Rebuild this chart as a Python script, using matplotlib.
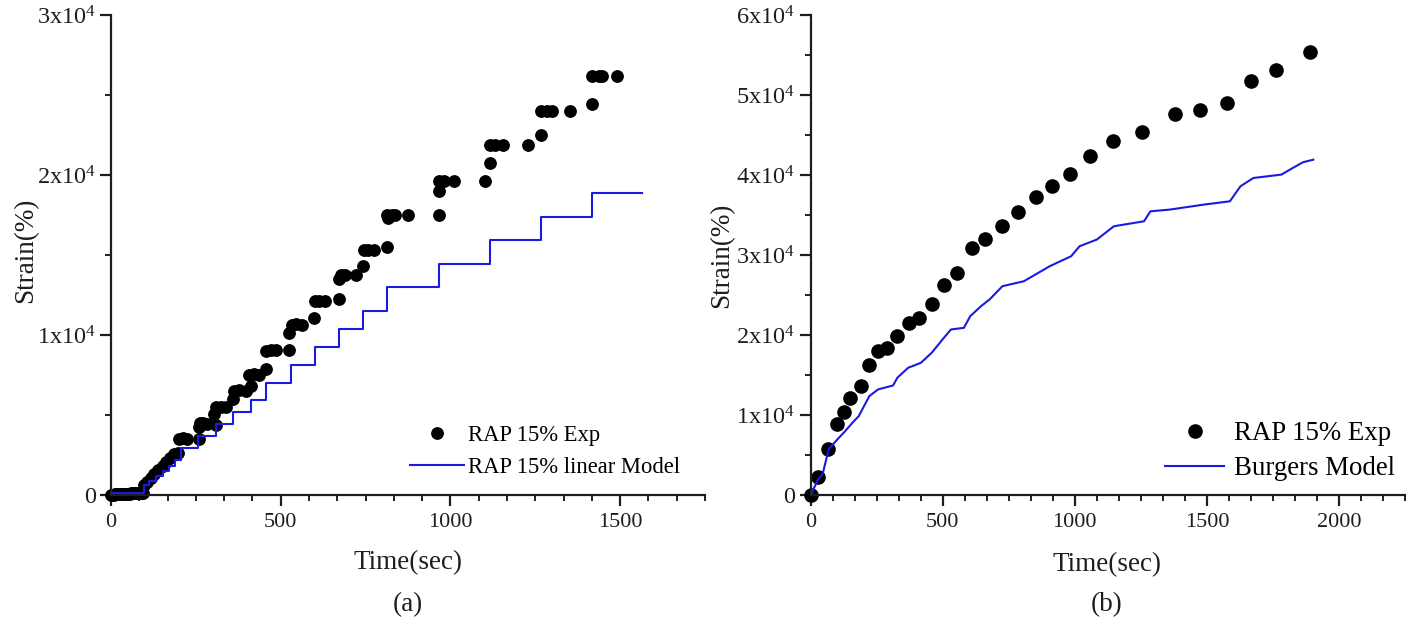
import matplotlib
matplotlib.use("Agg")
import matplotlib.pyplot as plt
from matplotlib.ticker import MultipleLocator, FuncFormatter

plt.rcParams['font.family'] = ['Liberation Serif', 'DejaVu Serif']
plt.rcParams['mathtext.fontset'] = 'custom'
plt.rcParams['mathtext.rm'] = 'Liberation Serif'

# ---- (a) RAP 15%: experiment vs linear model ----
exp_a_time = [0, 4, 8, 12, 16, 20, 25, 30, 35, 40, 45, 50, 55, 60, 65, 70, 75, 80, 85, 90, 95,
              98, 105, 118, 127, 137, 152, 162, 173, 186, 198,
              201, 213, 225, 258,
              258, 262, 271, 284, 309,
              304, 309, 323, 338,
              358, 363, 377, 397, 412,
              407, 421, 436, 456,
              456, 470, 485, 524,
              524, 532, 544, 563, 598,
              601, 613, 630, 671,
              671, 677, 688, 723,
              741, 744, 758, 776,
              813, 815, 813, 828, 837, 874,
              965, 965, 965, 980, 1011, 1103,
              1117, 1117, 1132, 1154, 1228,
              1268, 1268, 1284, 1299, 1353,
              1418, 1418, 1437, 1447, 1491]
exp_a_strain = [0, 20, 30, 40, 50, 55, 60, 65, 70, 75, 80, 85, 90, 95, 100, 105, 110, 115, 120, 130, 140,
                646, 833, 1062, 1333, 1583, 1833, 2083, 2333, 2562, 2625,
                3500, 3540, 3500, 3500,
                4230, 4500, 4500, 4460, 4375,
                5060, 5480, 5520, 5480,
                6000, 6520, 6560, 6520, 6790,
                7500, 7540, 7500, 7875,
                9020, 9080, 9080, 9080,
                10165, 10645, 10690, 10645, 11100,
                12165, 12165, 12165, 12290,
                13520, 13790, 13790, 13790,
                14310, 15350, 15350, 15350,
                15544, 17330, 17506, 17506, 17506, 17506,
                17506, 19025, 19660, 19660, 19660, 19660,
                20755, 21874, 21874, 21874, 21874,
                22507, 24047, 24047, 24047, 24047,
                24470, 26200, 26200, 26200, 26200]

model_a_time = [0, 98, 113, 132, 152, 171, 188, 205, 255, 308, 358, 411, 458, 530,
                600, 671, 742, 813, 965, 1117, 1266, 1418, 1565]
model_a_strain = [100, 600, 900, 1200, 1520, 1830, 2190, 2940, 3720, 4450, 5180, 5940, 7030, 8130,
                  9270, 10390, 11510, 13000, 14460, 15940, 17420, 18920, 18920]

# ---- (b) RAP 15%: experiment vs Burgers model ----
exp_b_time = [0, 28, 65, 101, 125, 149, 190, 219, 255, 287, 328, 372, 409, 461, 503, 555,
              612, 661, 723, 783, 853, 913, 983, 1059, 1145, 1254, 1379, 1473, 1575, 1668,
              1762, 1892]
exp_b_strain = [0, 2250, 5710, 8920, 10375, 12170, 13630, 16250, 18000, 18335, 19875, 21460,
                22170, 23960, 26250, 27790, 30920, 32040, 33630, 35420, 37290, 38630, 40210,
                42460, 44295, 45380, 47670, 48210, 49045, 51840, 53210, 55380]

model_b_time = [0, 28, 45, 68, 101, 125, 158, 182, 222, 255, 312, 328, 369, 417, 458, 499,
                531, 580, 604, 645, 677, 726, 807, 840, 905, 986, 1018, 1083, 1148, 1262,
                1286, 1359, 1489, 1587, 1627, 1676, 1782, 1814, 1863, 1903]
model_b_strain = [0, 1960, 2600, 5710, 6960, 7790, 9040, 9875, 12375, 13210, 13710, 14670,
                  15920, 16540, 17790, 19460, 20710, 20920, 22375, 23630, 24460, 26130, 26750,
                  27380, 28630, 29880, 31130, 31960, 33630, 34250, 35500, 35710, 36340, 36750,
                  38630, 39670, 40090, 40710, 41630, 41960]

W, H = 1416, 631
fig = plt.figure(figsize=(W / 100, H / 100), dpi=100)
INK = '#1e1e1e'
BLUE = '#1a1ae0'


def px_rect(x0, x1, ytop, ybot):
    return [x0 / W, 1 - ybot / H, (x1 - x0) / W, (ybot - ytop) / H]


def sci_label(v, pos):
    if abs(v) < 1e-9:
        return '0'
    return r'$\mathregular{%dx10^4}$' % round(v / 1e4)


def style_axes(ax, xmax, ymax, xmajor):
    ax.set_xlim(0, xmax)
    ax.set_ylim(0, ymax)
    for s in ('top', 'right'):
        ax.spines[s].set_visible(False)
    for s in ('left', 'bottom'):
        ax.spines[s].set_linewidth(1.6)
        ax.spines[s].set_color(INK)
    ax.xaxis.set_major_locator(MultipleLocator(xmajor))
    ax.xaxis.set_minor_locator(MultipleLocator(xmajor / 6))
    ax.yaxis.set_major_locator(MultipleLocator(10000))
    ax.yaxis.set_minor_locator(MultipleLocator(5000))
    ax.yaxis.set_major_formatter(FuncFormatter(sci_label))
    ax.tick_params(which='major', direction='out', length=8, width=1.6,
                   colors=INK, pad=3)
    ax.tick_params(which='minor', direction='out', length=4.5, width=1.4, colors=INK)
    ax.tick_params(axis='x', which='major', labelsize=16, pad=5)
    ax.tick_params(axis='y', which='major', labelsize=17.5)


# panel (a)
ax1 = fig.add_axes(px_rect(111, 705, 15.5, 495))
style_axes(ax1, 1750, 30000, 500)
ax1.plot(model_a_time, model_a_strain, drawstyle='steps-post', color=BLUE, lw=1.5,
         label='RAP 15% linear Model', zorder=3)
ax1.plot(exp_a_time, exp_a_strain, 'o', color='black', ms=8.2, mec='black',
         label='RAP 15% Exp', clip_on=False, zorder=2)
h, l = ax1.get_legend_handles_labels()
ax1.legend(h[::-1], l[::-1], loc='upper left', frameon=False, fontsize=16.3,
           bbox_to_anchor=(410 / W, 1 - 425 / H), bbox_transform=fig.transFigure,
           borderpad=0, borderaxespad=0, handlelength=2.4, handletextpad=0.15,
           labelspacing=0.5, numpoints=1)

# panel (b)
ax2 = fig.add_axes(px_rect(810.7, 1405, 15.5, 495))
style_axes(ax2, 2250, 60000, 500)
ax2.plot(model_b_time, model_b_strain, color=BLUE, lw=1.5,
         label='Burgers Model', zorder=3)
ax2.plot(exp_b_time, exp_b_strain, 'o', color='black', ms=9.5, mec='black',
         label='RAP 15% Exp', clip_on=False, zorder=2)
h, l = ax2.get_legend_handles_labels()
ax2.legend(h[::-1], l[::-1], loc='upper left', frameon=False, fontsize=19.4,
           bbox_to_anchor=(1165 / W, 1 - 421 / H), bbox_transform=fig.transFigure,
           borderpad=0, borderaxespad=0, handlelength=2.2, handletextpad=0.35,
           labelspacing=0.38, numpoints=1)

# axis titles and panel tags
lab = dict(fontsize=19.5, color=INK, ha='center', va='center')
fig.text(26 / W, 1 - 250 / H, 'Strain(%)', rotation=90, **lab)
fig.text(722 / W, 1 - 255 / H, 'Strain(%)', rotation=90, **lab)
fig.text(408 / W, 1 - 563 / H, 'Time(sec)', **lab)
fig.text(1107 / W, 1 - 565 / H, 'Time(sec)', **lab)
fig.text(408 / W, 1 - 605 / H, '(a)', **lab)
fig.text(1107 / W, 1 - 605 / H, '(b)', **lab)

fig.savefig('out.png', dpi=100)
